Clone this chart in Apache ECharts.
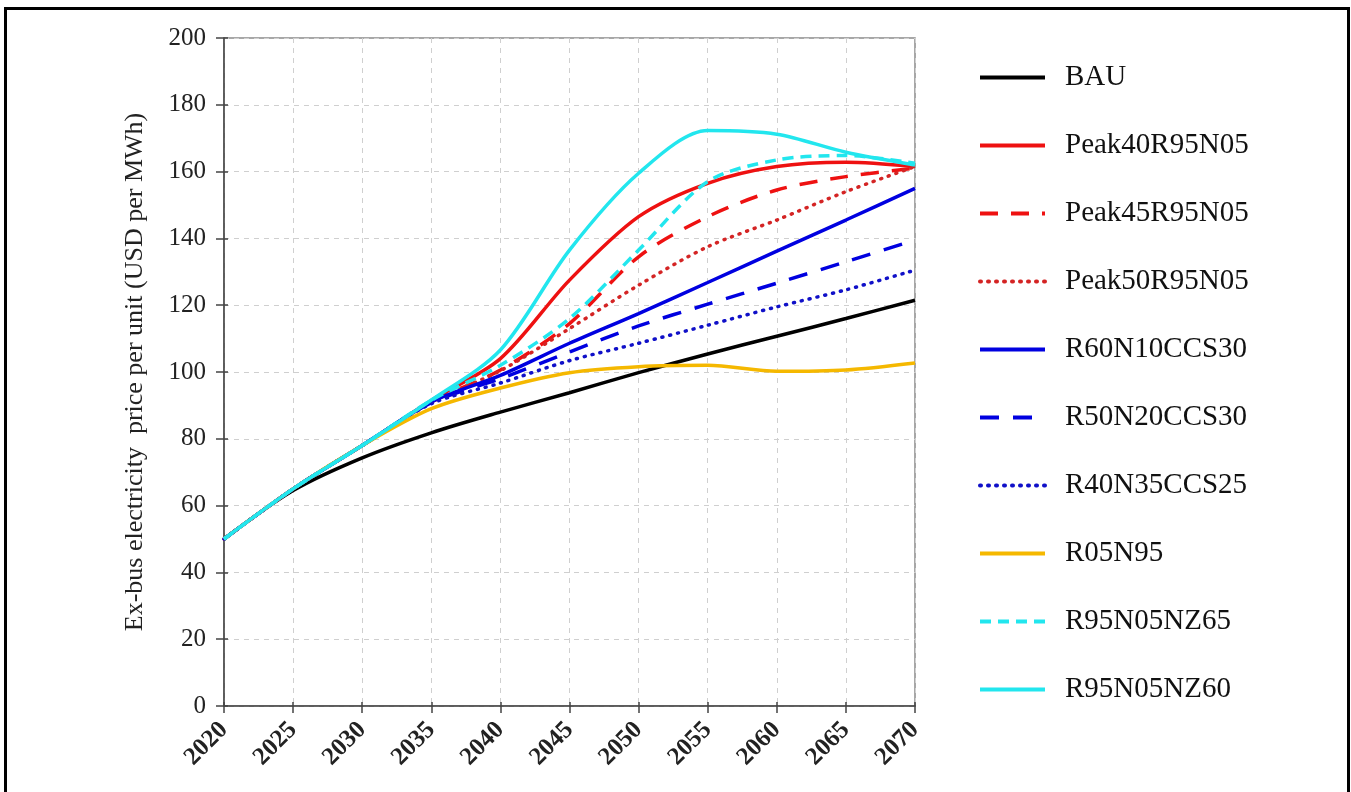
<!DOCTYPE html>
<html><head><meta charset="utf-8">
<script src="https://cdn.jsdelivr.net/npm/echarts@6/dist/echarts.min.js"></script>
<style>
html,body{margin:0;padding:0;background:#fff;overflow:hidden;}
#frame{position:absolute;left:4px;top:7px;width:1340px;height:820px;border:3px solid #000;border-bottom:none;}
#chart{position:absolute;left:0;top:0;width:1351px;height:792px;}
</style></head><body>
<div id="frame"></div>
<div id="chart"></div>
<script>
const years = [2020, 2025, 2030, 2035, 2040, 2045, 2050, 2055, 2060, 2065, 2070];
const seriesNames = ['BAU','Peak40R95N05','Peak45R95N05','Peak50R95N05','R60N10CCS30','R50N20CCS30','R40N35CCS25','R05N95','R95N05NZ65','R95N05NZ60'];
const BAU          = [50, 64.5, 74.3, 81.8, 88.0, 93.8, 99.8, 105.4, 110.7, 116.0, 121.5];
const Peak40R95N05 = [50, 65.0, 78.0, 91.5, 104.0, 127.5, 146.5, 156.5, 161.5, 162.8, 161.5];
const Peak45R95N05 = [50, 65.0, 78.0, 91.0, 100.6, 114.5, 134.5, 146.5, 154.5, 158.5, 161.0];
const Peak50R95N05 = [50, 65.0, 78.0, 91.0, 100.4, 113.0, 126.0, 137.5, 145.5, 154.0, 161.5];
const R60N10CCS30  = [50, 65.0, 78.0, 91.0, 99.0, 108.6, 117.5, 126.8, 136.2, 145.5, 155.0];
const R50N20CCS30  = [50, 65.0, 78.0, 90.8, 98.0, 106.0, 113.8, 120.3, 126.6, 133.0, 139.5];
const R40N35CCS25  = [50, 65.0, 78.0, 90.5, 96.7, 103.4, 108.6, 114.0, 119.5, 124.6, 130.5];
const R05N95       = [50, 65.0, 78.0, 89.0, 95.2, 99.8, 101.6, 102.0, 100.2, 100.6, 102.7];
const R95N05NZ65   = [50, 65.0, 78.0, 91.5, 102.0, 116.0, 136.5, 157.0, 163.5, 164.8, 162.5];
const R95N05NZ60   = [50, 65.0, 78.0, 91.6, 106.6, 136.5, 159.5, 172.3, 171.2, 165.8, 162.0];
const yLabelTitle = 'Ex-bus electricity  price per unit (USD per MWh)';

const values = [BAU, Peak40R95N05, Peak45R95N05, Peak50R95N05, R60N10CCS30, R50N20CCS30, R40N35CCS25, R05N95, R95N05NZ65, R95N05NZ60];
const colors = ['#000000','#ee1111','#ee1111','#d42424','#0000e0','#0000e0','#1010c8','#f5b800','#22e6ee','#22e6ee'];
const dashes = ['solid','solid',[18,13],[1,7],'solid',[19,14],[1,7],'solid',[11,7],'solid'];

const font = '"Liberation Serif","Times New Roman",serif';
const series = seriesNames.map((n, i) => ({
  name: n,
  type: 'line',
  data: years.map((y, k) => [y, values[i][k]]),
  smooth: 0.3,
  symbol: 'none',
  lineStyle: {color: colors[i], width: 3.5, type: dashes[i], cap: (Array.isArray(dashes[i]) && dashes[i][0] === 1) ? 'round' : 'butt'},
  itemStyle: {color: colors[i]},
  z: 2 + i
}));

const chart = echarts.init(document.getElementById('chart'), null, {renderer: 'canvas'});
chart.setOption({
  animation: false,
  backgroundColor: 'transparent',
  grid: {left: 224, right: 436, top: 38, bottom: 86, show: true, borderColor: '#8a8a8a', borderWidth: 1.5, backgroundColor: 'transparent'},
  legend: {
    orient: 'vertical', left: 978, top: 63, padding: 0,
    itemWidth: 65, itemHeight: 14, itemGap: 39,
    itemStyle: {opacity: 0},
    lineStyle: {width: 4},
    textStyle: {fontFamily: font, fontSize: 29, color: '#111', padding: [0, 0, 0, 15]},
    data: seriesNames
  },
  xAxis: [{
    type: 'value', min: 2020, max: 2070, interval: 5,
    axisLine: {show: true, lineStyle: {color: '#444', width: 1.5}},
    axisTick: {show: true, length: 7, lineStyle: {color: '#444', width: 1.5}},
    axisLabel: {rotate: 45, margin: 20, fontFamily: font, fontSize: 25, fontWeight: 'bold', color: '#222', formatter: v => String(v)},
    splitLine: {show: true, lineStyle: {color: '#cfcfcf', type: [5, 5], width: 1}}
  }, {
    type: 'value', min: 2020, max: 2070, interval: 5, position: 'bottom', gridIndex: 0,
    axisLine: {show: false}, axisLabel: {show: false}, splitLine: {show: false},
    axisTick: {show: true, inside: true, length: 4, lineStyle: {color: '#444', width: 1.5}}
  }],
  yAxis: [{
    type: 'value', min: 0, max: 200, interval: 20,
    name: yLabelTitle, nameLocation: 'middle', nameGap: 76,
    nameTextStyle: {fontFamily: font, fontSize: 26, color: '#222'},
    axisLine: {show: true, lineStyle: {color: '#444', width: 1.5}},
    axisTick: {show: true, length: 8, lineStyle: {color: '#444', width: 1.5}},
    axisLabel: {margin: 18, fontFamily: font, fontSize: 25, color: '#222'},
    splitLine: {show: true, lineStyle: {color: '#cfcfcf', type: [5, 5], width: 1}}
  }, {
    type: 'value', min: 0, max: 200, interval: 20, position: 'left', gridIndex: 0,
    axisLine: {show: false}, axisLabel: {show: false}, splitLine: {show: false},
    axisTick: {show: true, inside: true, length: 4, lineStyle: {color: '#444', width: 1.5}}
  }],
  series: series
});
</script>
</body></html>
